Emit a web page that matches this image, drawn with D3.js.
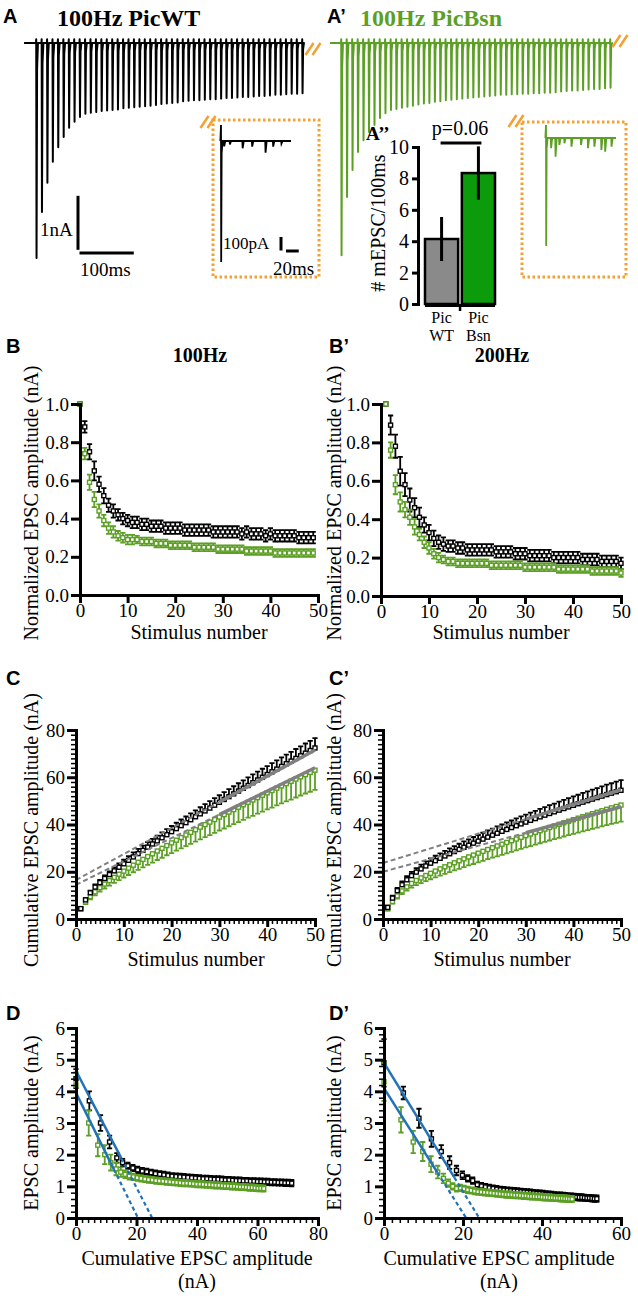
<!DOCTYPE html>
<html>
<head>
<meta charset="utf-8">
<script src="https://cdn.jsdelivr.net/npm/d3@7"></script>
<style>
body { margin: 0; background: #fff; }
svg { font-family: "Liberation Serif", "DejaVu Serif", serif; }
text { font-family: "Liberation Serif", "DejaVu Serif", serif; fill: #000; }
text.lab { font-family: "Liberation Sans", "DejaVu Sans", Arial, sans-serif; font-weight: bold; font-size: 20px; }
</style>
</head>
<body>
<svg width="638" height="1303"></svg>
<script>
var svg = d3.select("svg");
var BLK = "#000", GRN = "#5c9f25", GRY = "#808080", ORG = "#f4a033", BLU = "#2172b6";

// ---- A / A' : peak amplitude (nA) of each EPSC in the 100 Hz train ----
var trainWT = [3.98, 3.13, 2.59, 2.2, 1.93, 1.74, 1.57, 1.46, 1.37, 1.31,
    1.29, 1.28, 1.26, 1.25, 1.24, 1.23, 1.21, 1.2, 1.19, 1.18,
    1.17, 1.16, 1.15, 1.13, 1.12, 1.11, 1.1, 1.08, 1.07, 1.06,
    1.06, 1.05, 1.04, 1.04, 1.03, 1.02, 1.02, 1.01, 1.0, 1.0,
    0.99, 0.98, 0.98, 0.97, 0.96, 0.96, 0.95, 0.94, 0.94, 0.93];
var trainBsn = [3.93, 2.85, 2.35, 2.02, 1.8, 1.65, 1.52, 1.39, 1.3, 1.24,
    1.22, 1.2, 1.18, 1.16, 1.14, 1.12, 1.11, 1.09, 1.08, 1.06,
    1.05, 1.04, 1.03, 1.02, 1.01, 1.0, 0.99, 0.98, 0.97, 0.96,
    0.96, 0.95, 0.95, 0.94, 0.94, 0.93, 0.93, 0.92, 0.92, 0.91,
    0.9, 0.89, 0.88, 0.88, 0.87, 0.86, 0.85, 0.85, 0.84, 0.83];

// insets: last response (artifact up / peak, pA) and miniature events after the train
var insetWTspike = [118, -896];
var insetBsnSpike = [96, -800];
var miniWTtime = [5, 14, 34, 49, 70, 82, 95];
var miniWTamp = [-40, -25, -54, -42, -87, -42, -20];
var miniBsnTime = [8, 15, 21, 29, 40, 55, 66, 76, 87, 93, 103];
var miniBsnAmp = [-76, -138, -52, -39, -64, -52, -76, -64, -89, -101, -64];

// ---- A'' ----
var barGroups = ["WT", "Bsn"];
var barMean = [4.14, 8.34];
var barSem = [1.4, 1.7];
var barP = "p=0.06";

// ---- B / B' : normalized EPSC amplitude ----
var normWT100 = [1.0, 0.88, 0.75, 0.65, 0.58, 0.52, 0.47, 0.44, 0.42, 0.40,
    0.39, 0.38, 0.38, 0.37, 0.37, 0.36, 0.36, 0.36, 0.35, 0.35,
    0.35, 0.35, 0.34, 0.34, 0.34, 0.34, 0.34, 0.34, 0.33, 0.33,
    0.33, 0.33, 0.33, 0.33, 0.32, 0.33, 0.32, 0.32, 0.32, 0.31,
    0.32, 0.31, 0.31, 0.31, 0.31, 0.31, 0.30, 0.30, 0.30, 0.30];
var semWT100 = [0, 0.03, 0.04, 0.05, 0.04, 0.04, 0.035, 0.035, 0.03, 0.03,
    0.03, 0.03, 0.03, 0.03, 0.03, 0.03, 0.03, 0.03, 0.03, 0.03,
    0.03, 0.03, 0.03, 0.03, 0.03, 0.03, 0.03, 0.03, 0.03, 0.03,
    0.03, 0.03, 0.03, 0.03, 0.03, 0.03, 0.03, 0.03, 0.03, 0.03,
    0.03, 0.03, 0.03, 0.03, 0.03, 0.03, 0.03, 0.03, 0.03, 0.03];
var normBsn100 = [1.0, 0.74, 0.59, 0.50, 0.44, 0.39, 0.35, 0.33, 0.31, 0.30,
    0.29, 0.29, 0.29, 0.28, 0.28, 0.28, 0.27, 0.27, 0.27, 0.26,
    0.26, 0.26, 0.26, 0.26, 0.25, 0.25, 0.25, 0.25, 0.25, 0.24,
    0.24, 0.24, 0.24, 0.24, 0.24, 0.23, 0.23, 0.23, 0.23, 0.23,
    0.23, 0.22, 0.22, 0.22, 0.22, 0.22, 0.22, 0.22, 0.22, 0.22];
var semBsn100 = [0, 0.03, 0.04, 0.04, 0.035, 0.03, 0.03, 0.03, 0.025, 0.025,
    0.025, 0.025, 0.02, 0.02, 0.02, 0.02, 0.02, 0.02, 0.02, 0.02,
    0.02, 0.02, 0.02, 0.02, 0.02, 0.02, 0.02, 0.02, 0.02, 0.02,
    0.02, 0.02, 0.02, 0.02, 0.02, 0.02, 0.02, 0.02, 0.02, 0.02,
    0.02, 0.02, 0.02, 0.02, 0.02, 0.02, 0.02, 0.02, 0.02, 0.02];
var normWT200 = [1.0, 0.89, 0.78, 0.65, 0.58, 0.50, 0.46, 0.41, 0.37, 0.33,
    0.30, 0.28, 0.27, 0.26, 0.26, 0.25, 0.25, 0.24, 0.24, 0.24,
    0.24, 0.24, 0.24, 0.23, 0.23, 0.23, 0.23, 0.22, 0.22, 0.22,
    0.21, 0.21, 0.21, 0.21, 0.21, 0.20, 0.20, 0.20, 0.20, 0.20,
    0.20, 0.19, 0.19, 0.19, 0.19, 0.18, 0.18, 0.18, 0.18, 0.17];
var semWT200 = [0, 0.05, 0.06, 0.075, 0.06, 0.06, 0.05, 0.05, 0.04, 0.04,
    0.04, 0.035, 0.035, 0.03, 0.03, 0.03, 0.03, 0.03, 0.03, 0.03,
    0.03, 0.03, 0.03, 0.03, 0.03, 0.03, 0.03, 0.03, 0.03, 0.03,
    0.03, 0.03, 0.03, 0.03, 0.03, 0.03, 0.03, 0.03, 0.03, 0.03,
    0.03, 0.03, 0.03, 0.03, 0.03, 0.03, 0.03, 0.03, 0.03, 0.03];
var normBsn200 = [1.0, 0.76, 0.58, 0.49, 0.45, 0.41, 0.36, 0.32, 0.28, 0.25,
    0.22, 0.20, 0.19, 0.18, 0.18, 0.17, 0.17, 0.17, 0.17, 0.17,
    0.17, 0.17, 0.16, 0.16, 0.16, 0.16, 0.16, 0.16, 0.16, 0.15,
    0.15, 0.15, 0.15, 0.15, 0.15, 0.15, 0.14, 0.14, 0.14, 0.14,
    0.14, 0.14, 0.14, 0.13, 0.13, 0.13, 0.13, 0.13, 0.13, 0.12];
var semBsn200 = [0, 0.04, 0.05, 0.05, 0.04, 0.04, 0.04, 0.03, 0.03, 0.03,
    0.025, 0.025, 0.02, 0.02, 0.02, 0.02, 0.02, 0.02, 0.02, 0.02,
    0.02, 0.02, 0.02, 0.02, 0.02, 0.02, 0.02, 0.02, 0.02, 0.02,
    0.02, 0.02, 0.02, 0.02, 0.02, 0.02, 0.02, 0.02, 0.02, 0.02,
    0.02, 0.02, 0.02, 0.02, 0.02, 0.02, 0.02, 0.02, 0.02, 0.02];

// ---- D / D' : absolute EPSC amplitude (nA); C / C' are their running sums ----
var ampWT100 = [4.4, 3.7, 3.0, 2.4, 1.9, 1.75, 1.65, 1.58, 1.52, 1.48,
    1.46, 1.43, 1.4, 1.38, 1.36, 1.34, 1.32, 1.31, 1.3, 1.29,
    1.28, 1.27, 1.26, 1.25, 1.24, 1.24, 1.23, 1.22, 1.22, 1.21,
    1.2, 1.2, 1.19, 1.18, 1.18, 1.17, 1.17, 1.16, 1.16, 1.15,
    1.15, 1.14, 1.14, 1.13, 1.13, 1.12, 1.12, 1.11, 1.11, 1.1];
var ampBsn100 = [4.2, 3.0, 2.3, 2.0, 1.75, 1.55, 1.45, 1.38, 1.33, 1.3,
    1.27, 1.25, 1.23, 1.21, 1.2, 1.18, 1.17, 1.16, 1.15, 1.14,
    1.13, 1.12, 1.11, 1.1, 1.1, 1.09, 1.08, 1.07, 1.07, 1.06,
    1.05, 1.05, 1.04, 1.03, 1.03, 1.02, 1.01, 1.01, 1.0, 1.0,
    0.99, 0.98, 0.98, 0.97, 0.96, 0.96, 0.95, 0.94, 0.94, 0.93];
var ampWT200 = [4.9, 3.95, 3.15, 2.5, 2.1, 1.75, 1.5, 1.35, 1.25, 1.18,
    1.05, 1.01, 0.98, 0.95, 0.93, 0.91, 0.89, 0.88, 0.87, 0.86,
    0.85, 0.84, 0.83, 0.82, 0.81, 0.8, 0.79, 0.78, 0.77, 0.76,
    0.75, 0.74, 0.73, 0.72, 0.71, 0.71, 0.7, 0.69, 0.68, 0.68,
    0.67, 0.66, 0.65, 0.65, 0.64, 0.63, 0.63, 0.62, 0.61, 0.61];
var ampBsn200 = [4.3, 3.1, 2.4, 2.1, 1.7, 1.45, 1.25, 1.1, 1.0, 0.93,
    0.95, 0.92, 0.89, 0.87, 0.85, 0.83, 0.82, 0.81, 0.8, 0.79,
    0.78, 0.77, 0.76, 0.75, 0.74, 0.74, 0.73, 0.72, 0.72, 0.71,
    0.7, 0.7, 0.69, 0.68, 0.68, 0.67, 0.67, 0.66, 0.65, 0.65,
    0.64, 0.64, 0.63, 0.63, 0.62, 0.62, 0.61, 0.61, 0.6, 0.6];
var semAmpWT100 = [0.3, 0.3, 0.25, 0.2, 0.15, 0.12, 0.1, 0.1, 0.1, 0.1,
    0.1, 0.1, 0.1, 0.1, 0.1, 0.1, 0.1, 0.1, 0.1, 0.1,
    0.1, 0.1, 0.1, 0.1, 0.1, 0.1, 0.1, 0.1, 0.1, 0.1,
    0.1, 0.1, 0.1, 0.1, 0.1, 0.1, 0.1, 0.1, 0.1, 0.1,
    0.1, 0.1, 0.1, 0.1, 0.1, 0.1, 0.1, 0.1, 0.1, 0.1];
var semAmpBsn100 = [0.4, 0.4, 0.35, 0.3, 0.25, 0.2, 0.15, 0.12, 0.12, 0.1,
    0.1, 0.1, 0.1, 0.1, 0.1, 0.1, 0.1, 0.1, 0.1, 0.1,
    0.1, 0.1, 0.1, 0.1, 0.1, 0.1, 0.1, 0.1, 0.1, 0.1,
    0.1, 0.1, 0.1, 0.1, 0.1, 0.1, 0.1, 0.1, 0.1, 0.1,
    0.1, 0.1, 0.1, 0.1, 0.1, 0.1, 0.1, 0.1, 0.1, 0.1];
var semAmpWT200 = [0.75, 0.2, 0.3, 0.25, 0.2, 0.2, 0.15, 0.12, 0.1, 0.1,
    0.1, 0.1, 0.1, 0.1, 0.1, 0.1, 0.1, 0.1, 0.1, 0.1,
    0.1, 0.1, 0.1, 0.1, 0.1, 0.1, 0.1, 0.1, 0.1, 0.1,
    0.1, 0.1, 0.1, 0.1, 0.1, 0.1, 0.1, 0.1, 0.1, 0.1,
    0.1, 0.1, 0.1, 0.1, 0.1, 0.1, 0.1, 0.1, 0.1, 0.1];
var semAmpBsn200 = [0.6, 0.4, 0.35, 0.3, 0.25, 0.2, 0.15, 0.12, 0.1, 0.1,
    0.1, 0.1, 0.1, 0.1, 0.1, 0.1, 0.1, 0.1, 0.1, 0.1,
    0.1, 0.1, 0.1, 0.1, 0.1, 0.1, 0.1, 0.1, 0.1, 0.1,
    0.1, 0.1, 0.1, 0.1, 0.1, 0.1, 0.1, 0.1, 0.1, 0.1,
    0.1, 0.1, 0.1, 0.1, 0.1, 0.1, 0.1, 0.1, 0.1, 0.1];

// SEM of cumulative amplitude (WT drawn upward, Bsn downward)
var semCumWT100 = [0.4, 0.7, 0.9, 1.1, 1.2, 1.3, 1.4, 1.5, 1.6, 1.7,
    1.8, 1.9, 2.0, 2.0, 2.1, 2.2, 2.2, 2.3, 2.4, 2.4,
    2.5, 2.6, 2.6, 2.7, 2.7, 2.8, 2.9, 2.9, 3.0, 3.0,
    3.1, 3.2, 3.2, 3.3, 3.3, 3.4, 3.5, 3.5, 3.6, 3.6,
    3.7, 3.7, 3.8, 3.9, 3.9, 4.0, 4.0, 4.1, 4.1, 4.2];
var semCumBsn100 = [0.5, 0.9, 1.2, 1.5, 1.7, 1.9, 2.1, 2.3, 2.5, 2.7,
    2.9, 3.0, 3.2, 3.4, 3.5, 3.7, 3.8, 4.0, 4.1, 4.3,
    4.4, 4.6, 4.7, 4.9, 5.0, 5.2, 5.3, 5.5, 5.6, 5.7,
    5.9, 6.0, 6.1, 6.3, 6.4, 6.5, 6.7, 6.8, 6.9, 7.0,
    7.2, 7.3, 7.4, 7.5, 7.7, 7.8, 7.9, 8.0, 8.2, 8.3];
var semCumWT200 = [0.8, 1.0, 1.2, 1.4, 1.5, 1.6, 1.7, 1.8, 1.9, 2.0,
    2.1, 2.1, 2.2, 2.3, 2.3, 2.4, 2.5, 2.5, 2.6, 2.6,
    2.7, 2.8, 2.8, 2.9, 2.9, 3.0, 3.0, 3.1, 3.2, 3.2,
    3.3, 3.3, 3.4, 3.4, 3.5, 3.5, 3.6, 3.7, 3.7, 3.8,
    3.8, 3.9, 3.9, 4.0, 4.0, 4.1, 4.2, 4.2, 4.3, 4.3];
var semCumBsn200 = [0.6, 0.9, 1.2, 1.4, 1.6, 1.8, 2.0, 2.2, 2.4, 2.5,
    2.7, 2.8, 3.0, 3.1, 3.2, 3.4, 3.5, 3.6, 3.8, 3.9,
    4.0, 4.1, 4.2, 4.4, 4.5, 4.6, 4.7, 4.8, 4.9, 5.0,
    5.1, 5.2, 5.3, 5.4, 5.5, 5.6, 5.7, 5.8, 5.9, 6.0,
    6.1, 6.2, 6.3, 6.4, 6.5, 6.6, 6.7, 6.8, 6.9, 7.0];

// linear fits to late cumulative amplitude [WT, Bsn]
var fitCslope100 = [1.10, 0.99], fitCicpt100 = [16.5, 14.5];
var fitCslope200 = [0.62, 0.55], fitCicpt200 = [23.7, 20.0];
// back-extrapolation lines in D: y-intercept, x-intercept (nA), end of fitted part
var fitDy0_100 = [4.65, 3.95], fitDx0_100 = [25.2, 20.5], fitDend100 = [15, 12.5];
var fitDy0_200 = [4.9, 4.1], fitDx0_200 = [24.1, 20.8], fitDend200 = [17.8, 13.5];

var stim0 = d3.range(0, 50);   // 100 Hz normalized plot starts at 0
var stim1 = d3.range(1, 51);

var SERIF = "'Liberation Serif', 'DejaVu Serif', serif";

// ---------------- helpers ----------------
function text(x, y, s, size, opts) {
    opts = opts || {};
    var t = svg.append("text").attr("x", x).attr("y", y).text(s).attr("font-size", size)
        .attr("text-anchor", opts.anchor || "start");
    if (opts.cls) t.attr("class", opts.cls);
    else t.style("font-family", SERIF);
    if (opts.bold) t.attr("font-weight", "bold");
    if (opts.fill) t.style("fill", opts.fill);
    return t;
}
function vlabel(x, y, s) {
    svg.append("text").attr("transform", "translate(" + x + "," + y + ") rotate(-90)")
        .attr("text-anchor", "middle").attr("font-size", 20).style("font-family", SERIF).text(s);
}
function styleAxis(a, w) {
    a.attr("font-family", null).attr("font-size", null);
    a.select(".domain").attr("stroke-width", 3).attr("stroke-linecap", "square");
    a.selectAll(".tick line").attr("stroke-width", w);
    a.selectAll(".tick text").attr("font-size", 19).style("fill", "#000").style("font-family", SERIF);
}
function axes(x, y, xt, yt, fmtY, xMinor, yMinor) {
    var x0 = x.range()[0], y0 = y.range()[0];
    if (xMinor) svg.append("g").attr("transform", "translate(0," + y0 + ")")
        .call(d3.axisBottom(x).tickValues(xMinor).tickSize(5).tickFormat(""))
        .call(function (a) { a.select(".domain").remove(); a.selectAll("line").attr("stroke-width", 1.5); });
    if (yMinor) svg.append("g").attr("transform", "translate(" + x0 + ",0)")
        .call(d3.axisLeft(y).tickValues(yMinor).tickSize(5).tickFormat(""))
        .call(function (a) { a.select(".domain").remove(); a.selectAll("line").attr("stroke-width", 1.5); });
    svg.append("g").attr("transform", "translate(0," + y0 + ")")
        .call(d3.axisBottom(x).tickValues(xt).tickSize(8).tickSizeOuter(0).tickPadding(1))
        .call(styleAxis, 3);
    svg.append("g").attr("transform", "translate(" + x0 + ",0)")
        .call(d3.axisLeft(y).tickValues(yt).tickSize(9).tickSizeOuter(0).tickPadding(2).tickFormat(fmtY))
        .call(styleAxis, 3);
}
function series(x, y, xs, ys, up, dn, color) {
    var pts = xs.map(function (v, i) {
        return { x: v, y: ys[i], hi: ys[i] + (up ? up[i] : 0), lo: ys[i] - (dn ? dn[i] : 0) };
    });
    var g = svg.append("g").attr("stroke", color).attr("fill", "none");
    g.selectAll("path").data(pts).join("path").attr("stroke-width", 1.8)
        .attr("d", function (d) {
            var px = x(d.x), a = y(d.hi), b = y(d.lo), s = "M" + px + "," + a + "V" + b;
            if (d.hi > d.y) s += "M" + (px - 2.6) + "," + a + "h5.2";
            if (d.lo < d.y) s += "M" + (px - 2.6) + "," + b + "h5.2";
            return s;
        });
    g.selectAll("rect").data(pts).join("rect").attr("stroke-width", 1.4).attr("fill", "#fff")
        .attr("x", function (d) { return x(d.x) - 2; }).attr("y", function (d) { return y(d.y) - 2; })
        .attr("width", 4).attr("height", 4);
}
function breakMark(cx, cy) {
    [-3.5, 3.5].forEach(function (o) {
        svg.append("line").attr("x1", cx + o - 4).attr("y1", cy + 6).attr("x2", cx + o + 4).attr("y2", cy - 6)
            .attr("stroke", ORG).attr("stroke-width", 2.5);
    });
}

// ---------------- A / A' traces ----------------
var yTr = d3.scaleLinear().domain([0, -1]).range([43, 97]);
var xTrA = d3.scaleLinear().domain([0, 490]).range([36, 302]);
var xTrB = d3.scaleLinear().domain([0, 490]).range([341, 610]);

function drawTrain(peaks, x, color, t0, t1) {
    var pts = [[t0, 0]];
    peaks.forEach(function (p, i) {
        var t = i * 10;
        pts.push([t, 0], [t + 0.4, 0.07], [t + 1.0, -p], [t + 2.0, -p * 0.12], [t + 3.6, 0]);
    });
    pts.push([t1, 0]);
    svg.append("path").attr("d", d3.line().x(function (d) { return x(d[0]); }).y(function (d) { return yTr(d[1]); })(pts))
        .attr("fill", "none").attr("stroke", color).attr("stroke-width", 2).attr("stroke-linejoin", "round");
}
drawTrain(trainWT, xTrA, BLK, -22, 495);
drawTrain(trainBsn, xTrB, GRN, -20, 493);

// insets
function drawInset(x, y, spike, times, amps, color) {
    var pts = [[-1, 0], [0, spike[0]], [0.3, spike[1]], [1.0, spike[1] * 0.1], [2.5, 0]];
    times.forEach(function (t, i) { pts.push([t - 0.5, 0], [t, amps[i]], [t + 1.8, 0]); });
    pts.push([110, 0]);
    svg.append("path").attr("d", d3.line().x(function (d) { return x(d[0]); }).y(function (d) { return y(d[1]); })(pts))
        .attr("fill", "none").attr("stroke", color).attr("stroke-width", 1.8);
}
var xInA = d3.scaleLinear().domain([0, 110]).range([221, 291]);
var yInA = d3.scaleLinear().domain([0, -100]).range([141, 154.5]);
var xInB = d3.scaleLinear().domain([0, 110]).range([546, 616]);
var yInB = d3.scaleLinear().domain([0, -100]).range([138, 151.5]);
drawInset(xInA, yInA, insetWTspike, miniWTtime, miniWTamp, BLK);
drawInset(xInB, yInB, insetBsnSpike, miniBsnTime, miniBsnAmp, GRN);

// dotted frames and break marks
[[213, 120, 106, 157], [522, 122, 104, 155]].forEach(function (r) {
    svg.append("rect").attr("x", r[0]).attr("y", r[1]).attr("width", r[2]).attr("height", r[3])
        .attr("fill", "none").attr("stroke", ORG).attr("stroke-width", 3).attr("stroke-dasharray", "2.5,2.5");
});
breakMark(313, 49);
breakMark(208, 122);
breakMark(620, 41);
breakMark(516, 121);

// scale bars (1 nA / 100 ms and 100 pA / 20 ms)
var sb = svg.append("g").attr("stroke", BLK).attr("stroke-width", 3);
sb.append("line").attr("x1", 78).attr("x2", 78).attr("y1", yTr(-2.83)).attr("y2", yTr(-3.83));
sb.append("line").attr("x1", 79.5).attr("x2", 79.5 + xTrA(100) - xTrA(0)).attr("y1", 253).attr("y2", 253);
sb.append("line").attr("x1", 281).attr("x2", 281).attr("y1", 250.5).attr("y2", 250.5 - (yInA(-100) - yInA(0)));
sb.append("line").attr("x1", 286).attr("x2", 286 + xInA(20) - xInA(0)).attr("y1", 251).attr("y2", 251);
text(40, 236, "1nA", 19);
text(80, 276, "100ms", 19);
text(223, 249, "100pA", 17);
text(273, 275, "20ms", 19);

// titles & panel letters
text(3, 23, "A", 20, { cls: "lab" });
text(57, 26, "100Hz PicWT", 24, { bold: true });
text(327, 23, "A\u2019", 20, { cls: "lab" });
text(360, 26, "100Hz PicBsn", 24, { bold: true, fill: GRN });

// ---------------- A'' bar chart ----------------
var yBar = d3.scaleLinear().domain([0, 10]).range([304, 147]);
var xBar = d3.scaleBand().domain(barGroups).range([425, 495]).paddingInner(0.1);
var barFill = ["#8a8a8a", "#0b9b0b"];
svg.append("g").selectAll("rect").data(barGroups).join("rect")
    .attr("x", function (d) { return xBar(d); }).attr("width", xBar.bandwidth())
    .attr("y", function (d, i) { return yBar(barMean[i]); })
    .attr("height", function (d, i) { return yBar(0) - yBar(barMean[i]); })
    .attr("fill", function (d, i) { return barFill[i]; }).attr("stroke", BLK).attr("stroke-width", 2.5);
svg.append("g").selectAll("path").data(barGroups).join("path")
    .attr("d", function (d, i) {
        var cx = xBar(d) + xBar.bandwidth() / 2;
        return "M" + cx + "," + yBar(barMean[i] + barSem[i]) + "V" + yBar(barMean[i] - barSem[i]);
    }).attr("stroke", BLK).attr("stroke-width", 3);
svg.append("g").attr("transform", "translate(418,0)")
    .call(d3.axisLeft(yBar).tickValues([0, 2, 4, 6, 8, 10]).tickSize(6).tickSizeOuter(0).tickPadding(3))
    .call(styleAxis, 3)
    .call(function (a) { a.selectAll(".tick text").attr("font-size", 20); });
svg.append("line").attr("x1", 425).attr("x2", 495).attr("y1", yBar(0) + 1.5).attr("y2", yBar(0) + 1.5)
    .attr("stroke", BLK).attr("stroke-width", 3);
svg.append("line").attr("x1", xBar("Bsn") - 1.8).attr("x2", xBar("Bsn") - 1.8).attr("y1", yBar(0)).attr("y2", yBar(0) + 7)
    .attr("stroke", BLK).attr("stroke-width", 2.5);
barGroups.forEach(function (g) {
    var cx = xBar(g) + xBar.bandwidth() / 2;
    text(cx, 323, "Pic", 16, { anchor: "middle" });
    text(cx, 341, g, 16, { anchor: "middle" });
});
var c0 = xBar("WT") + xBar.bandwidth() / 2, c1 = xBar("Bsn") + xBar.bandwidth() / 2;
svg.append("line").attr("x1", c0 - 1).attr("x2", c1 + 3).attr("y1", yBar(10.25)).attr("y2", yBar(10.25))
    .attr("stroke", BLK).attr("stroke-width", 3);
text((c0 + c1) / 2, 135, barP, 20, { anchor: "middle" });
text(366, 140, "A\u2019\u2019", 19, { bold: true });
vlabel(385, 223, "# mEPSC/100ms");

// ---------------- B / B' ----------------
var fmt1 = d3.format(".1f");
var xB1 = d3.scaleLinear().domain([0, 50]).range([80, 318]);
var yB1 = d3.scaleLinear().domain([0, 1]).range([595, 404]);
var xB2 = d3.scaleLinear().domain([0, 50]).range([381, 621]);
var yB2 = d3.scaleLinear().domain([0, 1]).range([596, 404]);
series(xB1, yB1, stim0, normWT100, semWT100, semWT100, BLK);
series(xB1, yB1, stim0, normBsn100, semBsn100, semBsn100, GRN);
series(xB2, yB2, stim1, normWT200, semWT200, semWT200, BLK);
series(xB2, yB2, stim1, normBsn200, semBsn200, semBsn200, GRN);
axes(xB1, yB1, d3.range(0, 51, 10), d3.range(0, 1.01, 0.2), fmt1);
axes(xB2, yB2, d3.range(0, 51, 10), d3.range(0, 1.01, 0.2), fmt1);
text(6, 353, "B", 20, { cls: "lab" });
text(329, 353, "B\u2019", 20, { cls: "lab" });
text(200, 362, "100Hz", 20, { bold: true, anchor: "middle" });
text(502, 362, "200Hz", 20, { bold: true, anchor: "middle" });
vlabel(38, 503, "Normalized EPSC amplitude (nA)");
vlabel(341, 503, "Normalized EPSC amplitude (nA)");
text(199, 639, "Stimulus number", 20, { anchor: "middle" });
text(501, 639, "Stimulus number", 20, { anchor: "middle" });

// ---------------- C / C' ----------------
var cumWT100 = d3.cumsum(ampWT100), cumBsn100 = d3.cumsum(ampBsn100);
var cumWT200 = d3.cumsum(ampWT200), cumBsn200 = d3.cumsum(ampBsn200);
var xC1 = d3.scaleLinear().domain([0, 50]).range([76, 315]);
var xC2 = d3.scaleLinear().domain([0, 50]).range([383, 621]);
var yC1 = d3.scaleLinear().domain([0, 80]).range([919, 730]);
var yC2 = d3.scaleLinear().domain([0, 80]).range([919, 730]);

function fitLines(x, y, slopes, icpts) {
    slopes.forEach(function (s, i) {
        var f = function (v) { return icpts[i] + s * v; };
        svg.append("line").attr("x1", x(0)).attr("y1", y(f(0))).attr("x2", x(30)).attr("y2", y(f(30)))
            .attr("stroke", GRY).attr("stroke-width", 2).attr("stroke-dasharray", "5,3");
        svg.append("line").attr("x1", x(30)).attr("y1", y(f(30))).attr("x2", x(50)).attr("y2", y(f(50)))
            .attr("stroke", GRY).attr("stroke-width", 3.5);
    });
}
series(xC1, yC1, stim1, Array.from(cumBsn100), null, semCumBsn100, GRN);
series(xC1, yC1, stim1, Array.from(cumWT100), semCumWT100, null, BLK);
fitLines(xC1, yC1, fitCslope100, fitCicpt100);
series(xC2, yC2, stim1, Array.from(cumBsn200), null, semCumBsn200, GRN);
series(xC2, yC2, stim1, Array.from(cumWT200), semCumWT200, null, BLK);
fitLines(xC2, yC2, fitCslope200, fitCicpt200);
var minorC = d3.range(0, 51).filter(function (v) { return v % 10; });
var minorCy = d3.range(0, 81, 2).filter(function (v) { return v % 20; });
axes(xC1, yC1, d3.range(0, 51, 10), d3.range(0, 81, 20), d3.format("d"), minorC, minorCy);
axes(xC2, yC2, d3.range(0, 51, 10), d3.range(0, 81, 20), d3.format("d"), minorC, minorCy);
text(6, 685, "C", 20, { cls: "lab" });
text(329, 685, "C\u2019", 20, { cls: "lab" });
vlabel(38, 830, "Cumulative EPSC amplitude (nA)");
vlabel(341, 830, "Cumulative EPSC amplitude (nA)");
text(196, 966, "Stimulus number", 20, { anchor: "middle" });
text(502, 966, "Stimulus number", 20, { anchor: "middle" });

// ---------------- D / D' ----------------
function before(c) { return [0].concat(Array.from(c).slice(0, -1)); }
var xD1 = d3.scaleLinear().domain([0, 80]).range([76, 318]);
var yD1 = d3.scaleLinear().domain([0, 6]).range([1218, 1028]);
var xD2 = d3.scaleLinear().domain([0, 60]).range([384, 621]);
var yD2 = d3.scaleLinear().domain([0, 6]).range([1218, 1028]);
series(xD1, yD1, before(cumWT100), ampWT100, semAmpWT100, semAmpWT100, BLK);
series(xD1, yD1, before(cumBsn100), ampBsn100, semAmpBsn100, semAmpBsn100, GRN);
series(xD2, yD2, before(cumWT200), ampWT200, semAmpWT200, semAmpWT200, BLK);
series(xD2, yD2, before(cumBsn200), ampBsn200, semAmpBsn200, semAmpBsn200, GRN);

function eqLines(x, y, y0s, x0s, ends) {
    y0s.forEach(function (y0, i) {
        var f = function (v) { return y0 * (1 - v / x0s[i]); };
        svg.append("line").attr("x1", x(0)).attr("y1", y(f(0))).attr("x2", x(ends[i])).attr("y2", y(f(ends[i])))
            .attr("stroke", BLU).attr("stroke-width", 2.5);
        svg.append("line").attr("x1", x(ends[i])).attr("y1", y(f(ends[i]))).attr("x2", x(x0s[i])).attr("y2", y(0))
            .attr("stroke", BLU).attr("stroke-width", 2.2).attr("stroke-dasharray", "4,3");
    });
}
eqLines(xD1, yD1, fitDy0_100, fitDx0_100, fitDend100);
eqLines(xD2, yD2, fitDy0_200, fitDx0_200, fitDend200);
var minorDy = d3.range(0, 6.01, 0.2).filter(function (v) { return Math.abs(v - Math.round(v)) > 0.01; });
axes(xD1, yD1, d3.range(0, 81, 20), d3.range(0, 7), d3.format("d"),
    d3.range(0, 81, 2).filter(function (v) { return v % 20; }), minorDy);
axes(xD2, yD2, d3.range(0, 61, 20), d3.range(0, 7), d3.format("d"),
    d3.range(0, 61, 2).filter(function (v) { return v % 20; }), minorDy);
text(6, 1020, "D", 20, { cls: "lab" });
text(329, 1020, "D\u2019", 20, { cls: "lab" });
vlabel(38, 1123, "EPSC amplitude (nA)");
vlabel(341, 1123, "EPSC amplitude (nA)");
text(197, 1265, "Cumulative EPSC amplitude", 20, { anchor: "middle" });
text(197, 1288, "(nA)", 20, { anchor: "middle" });
text(499, 1265, "Cumulative EPSC amplitude", 20, { anchor: "middle" });
text(499, 1288, "(nA)", 20, { anchor: "middle" });
</script>
</body>
</html>
